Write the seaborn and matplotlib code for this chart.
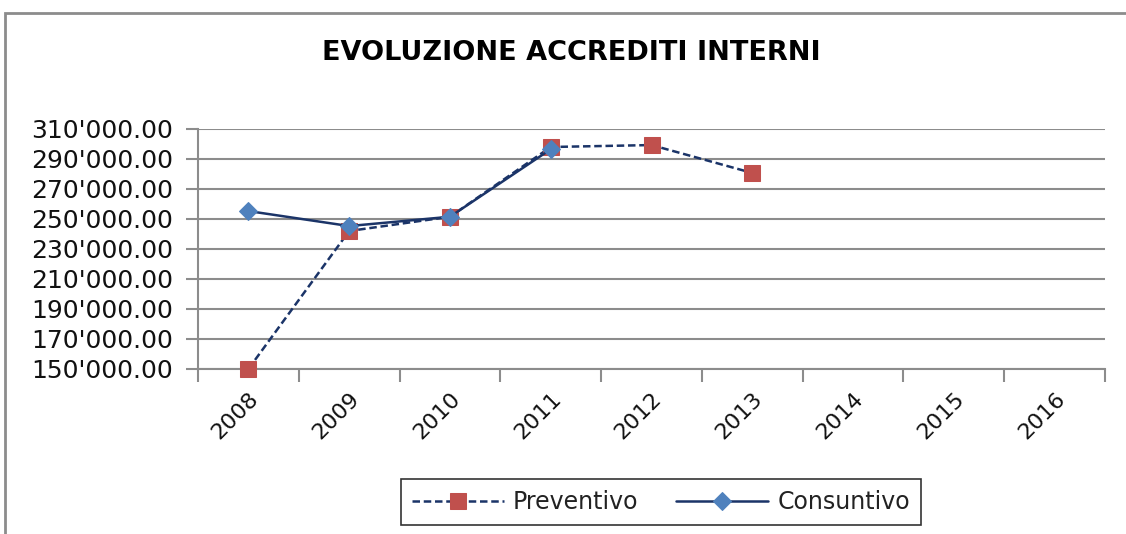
import matplotlib
matplotlib.use("Agg")
import matplotlib.pyplot as plt
import matplotlib.patches as mpatches
from matplotlib.ticker import FixedLocator, FuncFormatter
import seaborn as sns
import pandas as pd

years = ["2008", "2009", "2010", "2011", "2012", "2013", "2014", "2015", "2016"]
preventivo = [150000, 242000, 251500, 298000, 299300, 280700]
consuntivo = [255300, 245300, 251500, 296500]
yticks = [150000, 170000, 190000, 210000, 230000, 250000, 270000, 290000, 310000]

sns.set_theme(style="white")
plt.rcParams["font.family"] = ["DejaVu Sans"]

fig = plt.figure(figsize=(11.26, 5.34), dpi=100)
ax = fig.add_axes([198/1126, 1-369/534, (1105-198)/1126, (369-129)/534])

df_p = pd.DataFrame({"x": list(range(len(preventivo))), "y": preventivo})
df_c = pd.DataFrame({"x": list(range(len(consuntivo))), "y": consuntivo})

navy = "#1B3468"
sns.lineplot(data=df_p, x="x", y="y", ax=ax, color=navy, linestyle=(0, (3, 1.5)),
             linewidth=1.8, marker="s", markersize=12, markerfacecolor="#C0504D",
             markeredgecolor="#C0504D", label="Preventivo", clip_on=False, zorder=4)
sns.lineplot(data=df_c, x="x", y="y", ax=ax, color=navy, linestyle="-",
             linewidth=1.8, marker="D", markersize=9, markerfacecolor="#4F81BD",
             markeredgecolor="#4F81BD", label="Consuntivo", clip_on=False, zorder=5)

ax.set_xlim(-0.5, len(years) - 0.5)
ax.set_ylim(yticks[0], yticks[-1])
ax.set_xlabel("")
ax.set_ylabel("")

ax.yaxis.set_major_locator(FixedLocator(yticks))
ax.yaxis.set_major_formatter(FuncFormatter(lambda v, p: f"{v:,.2f}".replace(",", "'")))
ax.grid(axis="y", color="#8C8C8C", linewidth=1.5)
ax.set_axisbelow(True)

ax.set_xticks([i - 0.5 for i in range(len(years) + 1)])
ax.set_xticklabels([])
ax.set_xticks(list(range(len(years))), minor=True)
ax.set_xticklabels(years, minor=True, rotation=45, ha="right", va="top",
                   rotation_mode="anchor", fontsize=16, color="#111111")
ax.tick_params(axis="x", which="major", direction="out", length=9, width=1.5,
               color="#8C8C8C", bottom=True)
ax.tick_params(axis="x", which="minor", length=0, pad=14)
ax.tick_params(axis="y", which="major", direction="out", length=9, width=1.5,
               color="#8C8C8C", left=True, labelsize=18, labelcolor="#111111", pad=9)

for s in ["top", "right"]:
    ax.spines[s].set_visible(False)
for s in ["left", "bottom"]:
    ax.spines[s].set_color("#8C8C8C")
    ax.spines[s].set_linewidth(1.5)

fig.text(571/1126, 1-53/534, "EVOLUZIONE ACCREDITI INTERNI", ha="center", va="center",
         fontsize=19.5, fontweight="bold", family="DejaVu Sans", color="#000000")

handles, labels = ax.get_legend_handles_labels()
if ax.legend_:
    ax.legend_.remove()
leg = fig.legend(handles, labels, loc="center", bbox_to_anchor=(661/1126, 1-502/534),
                 ncol=2, frameon=True, fancybox=False, fontsize=17, handlelength=3.9,
                 columnspacing=1.6, borderpad=0.45, handletextpad=0.4)
leg.get_frame().set_edgecolor("#000000")
leg.get_frame().set_linewidth(1.2)
for t in leg.get_texts():
    t.set_color("#222222")

border = mpatches.Rectangle((5/1126, -0.05), 1.2, 1 - 13/534 + 0.05, transform=fig.transFigure,
                            fill=False, edgecolor="#8C8C8C", linewidth=2, clip_on=False)
fig.patches.append(border)

fig.savefig("out.png", dpi=100)
